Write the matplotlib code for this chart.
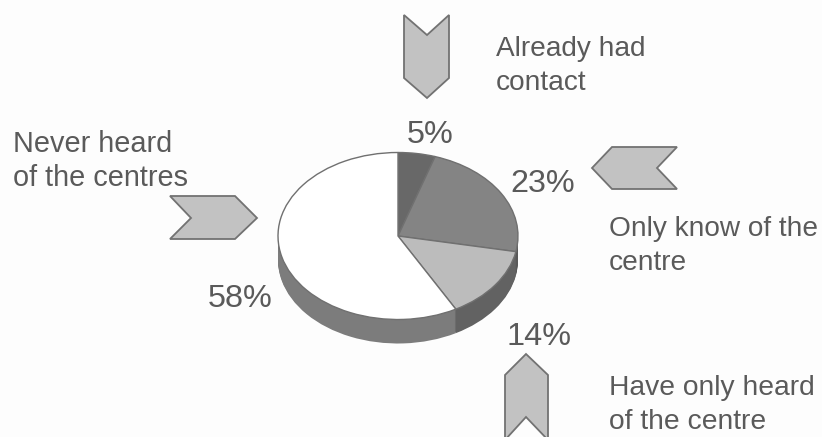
#!/usr/bin/env python

import matplotlib.pyplot as plt
from matplotlib.patches import Polygon

plt.rcParams['font.family'] = ['Liberation Sans', 'DejaVu Sans']

values = [5, 23, 14, 58]
top_colors = ['#686868', '#848484', '#bcbcbc', '#ffffff']
side_colors = ['#585858', '#585858', '#626262', '#7c7c7c']
value_pos = [(407, 143), (510, 192), (506, 345), (208, 307)]

captions = [
    ('Already had\ncontact', 496, 56, 20.2),
    ('Only know of the\ncentre', 609, 236, 20.2),
    ('Have only heard\nof the centre', 609, 395, 20.3),
    ('Never heard\nof the centres', 13, 152, 20.8),
]

arrows = [
    [(404, 15), (427, 35), (449, 15), (449, 78), (427, 98), (404, 78)],
    [(592, 168), (612, 147), (677, 147), (657, 168), (677, 189), (612, 189)],
    [(526, 354), (548, 375), (548, 440), (526, 417), (505, 440), (505, 375)],
    [(170, 196), (235, 196), (257, 218), (235, 239), (170, 239), (191, 218)],
]

W, H = 822, 437
BG = '#fdfdfd'
TEXT = '#5a5a5a'
EDGE = '#707070'

fig = plt.figure(figsize=(W / 100, H / 100), dpi=100, facecolor=BG)

# pie axes, squashed so the unit circle comes out as the tilted ellipse
cx, cy, rx, ry = 398, 236, 120, 83.5
depth = 24 / ry
pad = 1.5
pie_ax = fig.add_axes([(cx - rx * pad) / W, (H - cy - ry * pad) / H,
                       2 * rx * pad / W, 2 * ry * pad / H])

# side wall: stack of shifted pies, lowest first
steps = 24
for i in range(steps, 0, -1):
    pie_ax.pie(values, colors=side_colors, startangle=90, counterclock=False,
               center=(0, -depth * i / steps),
               wedgeprops={'linewidth': 0})

pie_ax.pie(values, colors=top_colors, startangle=90, counterclock=False,
           wedgeprops={'linewidth': 1.0, 'edgecolor': EDGE})
pie_ax.set_aspect('auto')
pie_ax.set_xlim(-pad, pad)
pie_ax.set_ylim(-pad, pad)

# overlay in image pixels for arrows and text
ax = fig.add_axes([0, 0, 1, 1])
ax.set_xlim(0, W)
ax.set_ylim(H, 0)
ax.axis('off')

for pts in arrows:
    ax.add_patch(Polygon(pts, closed=True, facecolor='#c2c2c2', edgecolor='#727272', linewidth=1.3))

for val, (x, y) in zip(values, value_pos):
    ax.text(x, y, f'{val}%', fontsize=23.3, color=TEXT, ha='left', va='baseline')

for txt, x, y, size in captions:
    first, second = txt.split('\n')
    ax.text(x, y, first, fontsize=size, color=TEXT, ha='left', va='baseline')
    ax.text(x, y + 34, second, fontsize=size, color=TEXT, ha='left', va='baseline')

fig.savefig('out.png', dpi=100, facecolor=BG)
